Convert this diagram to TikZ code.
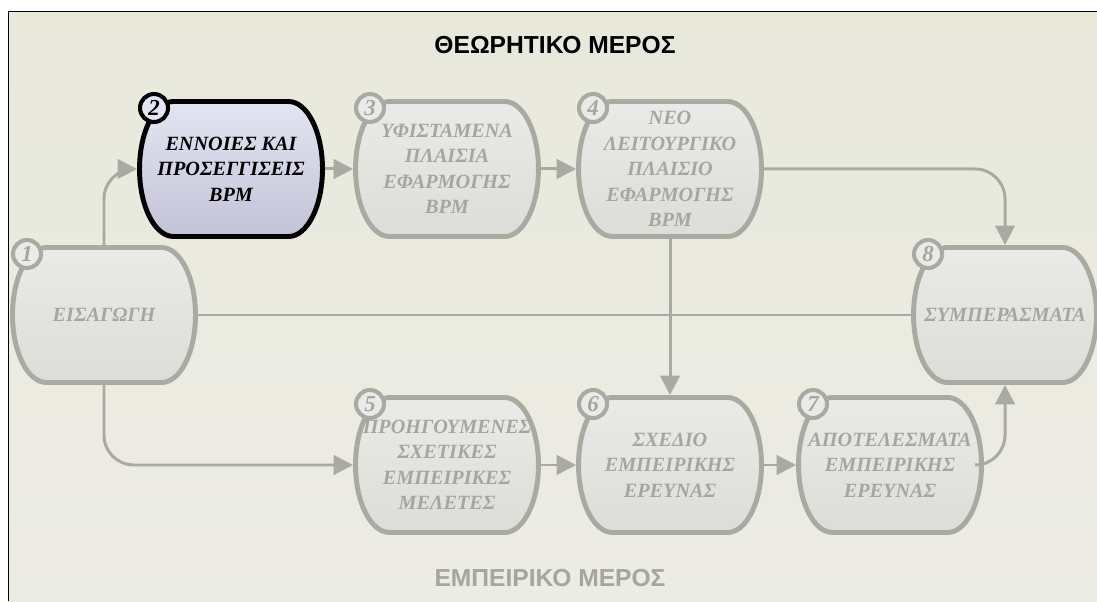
\documentclass[tikz,border=0pt]{standalone}
\usepackage{fontspec}
\setmainfont{Liberation Serif}
\setsansfont{Liberation Sans}
\usetikzlibrary{arrows.meta,backgrounds,calc}

\definecolor{bgtop}{HTML}{E8E9DB}
\definecolor{bgbot}{HTML}{ECECE6}
\definecolor{linegrey}{HTML}{A9AAA1}
\definecolor{textgrey}{HTML}{A5A69E}
\definecolor{boxlight}{HTML}{EAEBE8}
\definecolor{boxdark}{HTML}{DCDDD8}
\definecolor{hilight}{HTML}{E3E5F2}
\definecolor{hidark}{HTML}{C3C3D6}

\tikzset{
  phase/.style={minimum width=3.76cm,minimum height=2.8cm,inner sep=0pt,outer sep=0pt,
    align=center,text=textgrey,font=\bfseries\itshape\fontsize{11.5}{14.5}\selectfont},
  phaseline/.style={draw=linegrey,line width=2.8pt,shade,shading angle=30,
    top color=boxlight,bottom color=boxdark},
  activeline/.style={draw=black,line width=2.8pt,shade,shading angle=30,
    top color=hilight,bottom color=hidark},
  numring/.style={circle,draw=linegrey,line width=2.3pt,fill=boxlight,minimum size=0.56cm,
    inner sep=0pt,text=textgrey,font=\bfseries\itshape\fontsize{13}{13}\selectfont},
  flow/.style={draw=linegrey,line width=1.7pt,rounded corners=17pt,
    -{Triangle[length=11pt,width=11pt]}},
  title/.style={font=\sffamily\bfseries\fontsize{14}{14}\selectfont}
}

% rounded box with elliptic sides
\newcommand\phaseshape[2]{%
  \path[#1] ($(#2.west)+(2.5,0)$)
    arc[start angle=180,end angle=90,x radius=34,y radius=67.5]
    -- ($(#2.north east)+(-36.5,-2.5)$)
    arc[start angle=90,end angle=-90,x radius=34,y radius=67.5]
    -- ($(#2.south west)+(36.5,2.5)$)
    arc[start angle=270,end angle=180,x radius=34,y radius=67.5] -- cycle;}

\begin{document}
\begin{tikzpicture}[x=0.02cm,y=0.02cm]
\useasboundingbox (0,0) rectangle (1097,601);

% phases
\node[phase] (phase1) at (104,286) {ΕΙΣΑΓΩΓΗ};
\node[phase,text=black] (phase2) at (231,432) {ΕΝΝΟΙΕΣ ΚΑΙ\\ΠΡΟΣΕΓΓΙΣΕΙΣ\\BPM};
\node[phase] (phase3) at (447,432) {ΥΦΙΣΤΑΜΕΝΑ\\ΠΛΑΙΣΙΑ\\ΕΦΑΡΜΟΓΗΣ\\BPM};
\node[phase] (phase4) at (670,432) {ΝΕΟ\\ΛΕΙΤΟΥΡΓΙΚΟ\\ΠΛΑΙΣΙΟ\\ΕΦΑΡΜΟΓΗΣ\\BPM};
\node[phase] (phase5) at (447,136) {ΠΡΟΗΓΟΥΜΕΝΕΣ\\ΣΧΕΤΙΚΕΣ\\ΕΜΠΕΙΡΙΚΕΣ\\ΜΕΛΕΤΕΣ};
\node[phase] (phase6) at (670,136) {ΣΧΕΔΙΟ\\ΕΜΠΕΙΡΙΚΗΣ\\ΕΡΕΥΝΑΣ};
\node[phase] (phase7) at (890,136) {ΑΠΟΤΕΛΕΣΜΑΤΑ\\ΕΜΠΕΙΡΙΚΗΣ\\ΕΡΕΥΝΑΣ};
\node[phase] (phase8) at (1005,286) {ΣΥΜΠΕΡΑΣΜΑΤΑ};

\begin{scope}[on background layer]
  \shade[top color=bgtop,bottom color=bgbot] (8.5,0) rectangle (1097,589.5);
  \draw[line width=1.1pt] (8.5,0) -- (8.5,589.5) -- (1097,589.5);
  \foreach \n in {1,3,4,5,6,7,8} \phaseshape{phaseline}{phase\n};
  \phaseshape{activeline}{phase2};
\end{scope}

% numbers
\foreach \n in {1,3,4,5,6,7,8}
  \node[numring] (num\n) at ([shift={(17,-9)}]phase\n.north west) {\n};
\node[numring,draw=black,fill=hilight,text=black] (num2) at ([shift={(17,-9)}]phase2.north west) {2};

% titles
\node[title] (theory) at (555,556) {ΘΕΩΡΗΤΙΚΟ ΜΕΡΟΣ};
\node[title,text=textgrey] (empiric) at (550,23) {ΕΜΠΕΙΡΙΚΟ ΜΕΡΟΣ};

% connectors
\draw[draw=linegrey,line width=1.2pt] (phase1.east) -- (phase8.west);
\draw[flow] (phase1.north) |- (phase2.west);
\draw[flow] (phase1.south) |- (phase5.west);
\draw[flow] (phase2) -- (phase3);
\draw[flow] (phase3) -- (phase4);
\draw[flow] (phase4.east) -| (phase8.north);
\draw[flow] (phase4) -- (phase6);
\draw[flow] (phase5) -- (phase6);
\draw[flow] (phase6) -- (phase7);
\draw[flow] (phase7.east) -| (phase8.south);
\end{tikzpicture}
\end{document}
